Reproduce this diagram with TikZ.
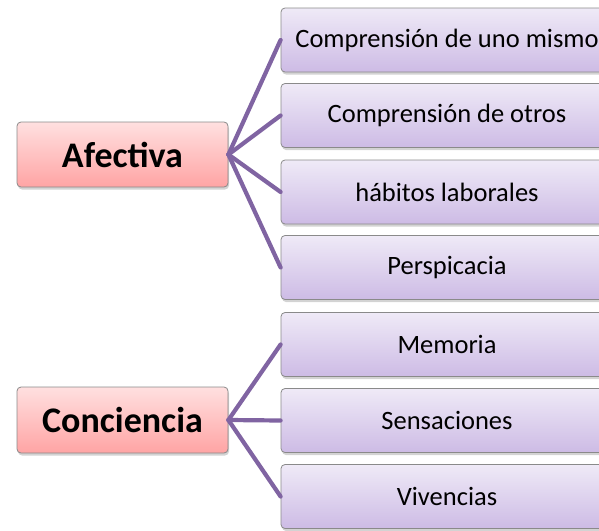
\documentclass[tikz,border=0pt]{standalone}
\usepackage{fontspec}
\setmainfont{Carlito}
\usetikzlibrary{shadows}
\definecolor{linkpurple}{HTML}{8064A2}
\definecolor{pinktop}{HTML}{FFE0E0}
\definecolor{pinkbot}{HTML}{FFA4A4}
\definecolor{lavtop}{HTML}{EFEAF7}
\definecolor{lavbot}{HTML}{CDBBE5}
\definecolor{edgegray}{HTML}{8A8A8A}
\tikzset{
  px/.style={x=1pt,y=-1pt},
  mainbox/.style={draw=edgegray, line width=0.8pt, rounded corners=4pt,
    top color=pinktop, bottom color=pinkbot, minimum width=211pt, minimum height=65pt,
    inner sep=0pt, font=\fontsize{36}{40}\selectfont\bfseries,
    drop shadow={shadow xshift=1pt, shadow yshift=-2.5pt, opacity=0.35}},
  subbox/.style={draw=edgegray, line width=0.8pt, rounded corners=4pt,
    top color=lavtop, bottom color=lavbot, minimum width=332pt, minimum height=64pt,
    inner sep=0pt, font=\fontsize{26.5}{30}\selectfont,
    drop shadow={shadow xshift=1pt, shadow yshift=-2.5pt, opacity=0.35}},
  link/.style={draw=linkpurple, line width=4.2pt, line cap=round}
}
\begin{document}
\begin{tikzpicture}[px]
\useasboundingbox (0,0) rectangle (599,530);
\clip (0,0) rectangle (599,530);
\node[mainbox] (afe) at (122.5,154.5) {Afectiva};
\node[mainbox, minimum height=66pt] (con) at (122.5,420) {Conciencia};
\node[subbox] (s1) at (447,40) {Comprensión de uno mismo};
\node[subbox] (s2) at (447,115.5) {Comprensión de otros};
\node[subbox] (s3) at (447,192) {hábitos laborales};
\node[subbox] (s4) at (447,267.5) {Perspicacia};
\node[subbox] (s5) at (447,344.5) {Memoria};
\node[subbox] (s6) at (447,420.5) {Sensaciones};
\node[subbox] (s7) at (447,496.5) {Vivencias};
\foreach \t in {s1,s2,s3,s4} \draw[link] (afe.east) -- (\t.west);
\foreach \t in {s5,s6,s7} \draw[link] (con.east) -- (\t.west);
\end{tikzpicture}
\end{document}
